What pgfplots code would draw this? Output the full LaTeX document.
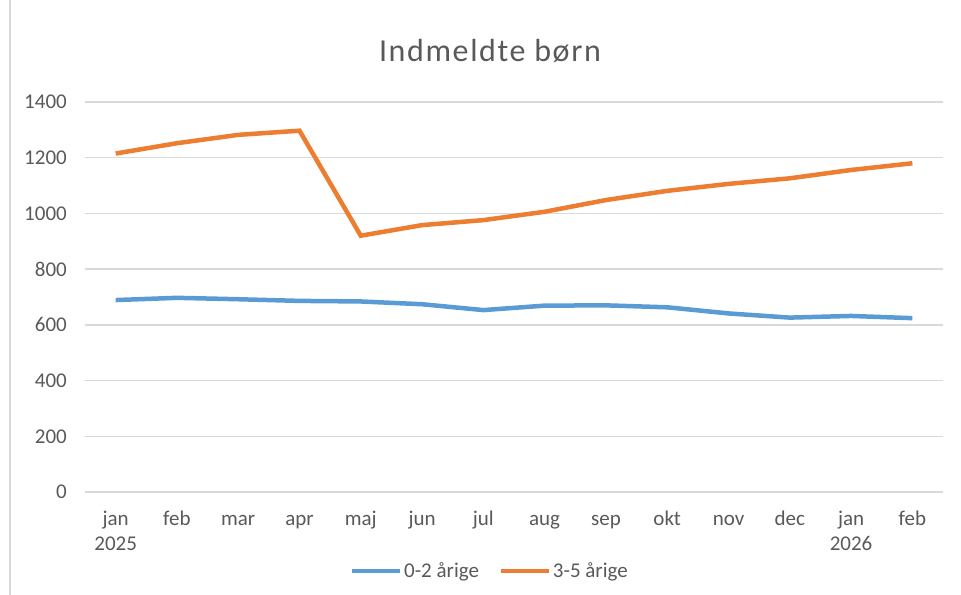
\documentclass[border=0pt]{standalone}
\usepackage{pgfplots}
\pgfplotsset{compat=1.18}
\usepackage{fontspec}
\setmainfont{Carlito}
\definecolor{txt}{HTML}{595959}
\definecolor{gridc}{HTML}{D9D9D9}
\definecolor{sblue}{HTML}{5B9BD5}
\definecolor{sorange}{HTML}{ED7D31}
\begin{document}
\begin{tikzpicture}
\path[use as bounding box] (-85bp,-103bp) rectangle (876bp,492bp);
\draw[gridc, line width=1.2bp] (-75bp,-103bp) -- (-75bp,492bp);
\node[anchor=base, text=txt, font=\fontsize{32bp}{36bp}\selectfont\addfontfeature{LetterSpace=5}] at (405bp,430bp) {Indmeldte børn};
\begin{axis}[
  scale only axis,
  width=858bp, height=390bp,
  xmin=-0.5, xmax=13.5,
  ymin=0, ymax=1400,
  ytick={0,200,...,1400},
  xtick={0,...,13},
  xticklabels={{\strut jan\\2025},\strut feb,\strut mar,\strut apr,\strut maj,\strut jun,\strut jul,\strut aug,\strut sep,\strut okt,\strut nov,\strut dec,{\strut jan\\2026},\strut feb},
  axis line style={draw=none},
  tick style={draw=none},
  xmajorgrids=false,
  ymajorgrids=true,
  major grid style={gridc, line width=1.3bp},
  /pgf/number format/assume math mode=true,
  /pgf/number format/1000 sep={},
  ticklabel style={text=txt, font=\fontsize{21bp}{25bp}\selectfont},
  xticklabel style={align=center, anchor=north, inner sep=0pt, yshift=-15.5bp},
  yticklabel style={anchor=east, inner sep=0pt, xshift=-18bp},
  legend style={at={(0.472,-0.2026)}, anchor=center, draw=none, fill=none,
    legend columns=2, font=\fontsize{21bp}{24bp}\selectfont, text=txt,
    /tikz/every even column/.append style={column sep=18bp}},
  legend image code/.code={\draw[#1, line width=4bp] (0bp,0bp) -- (48bp,0bp);},
  legend cell align=left,
]
\addplot[sblue, line width=4.5bp] coordinates {
(0,689) (1,697) (2,692) (3,686) (4,684) (5,674) (6,653) (7,669) (8,670) (9,663) (10,641) (11,626) (12,632) (13,624)};
\addlegendentry{0-2 årige}
\addplot[sorange, line width=4.5bp] coordinates {
(0,1215) (1,1252) (2,1282) (3,1297) (4,920) (5,958) (6,976) (7,1006) (8,1048) (9,1081) (10,1106) (11,1126) (12,1156) (13,1180)};
\addlegendentry{3-5 årige}
\end{axis}
\end{tikzpicture}
\end{document}
